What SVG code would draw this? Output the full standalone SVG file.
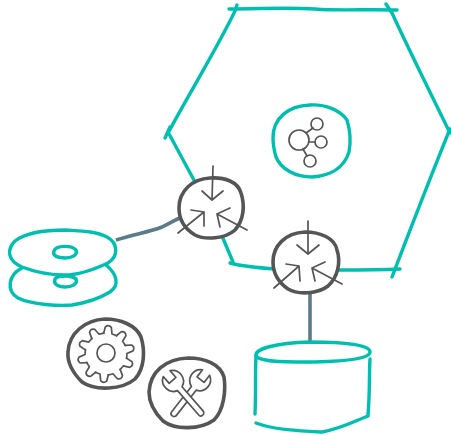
<svg xmlns="http://www.w3.org/2000/svg" width="451" height="436" viewBox="0 0 451 436">
<style>
.t{fill:none;stroke:#00bfb0;stroke-width:3.4;stroke-linecap:round;stroke-linejoin:round}
.d{fill:#fff;stroke:#555;stroke-width:3.6;stroke-linejoin:round}
.i{fill:none;stroke:#555;stroke-width:1.7;stroke-linecap:round;stroke-linejoin:round}
.w{fill:#fff;stroke:#555;stroke-width:1.7;stroke-linejoin:round}
.c{fill:none;stroke:#5b7b8c;stroke-width:3.6;stroke-linejoin:round}
</style>
<defs>
<path id="tooth" d="M-4.2 -20.5 L-3 -27 Q0 -30 3 -27 L4.2 -20.5 Q6.5 -20 9 -19"/>
<path id="wrench" d="M-3 -11 L-3 21 A3 3 0 0 0 3 21 L3 -11 A11 11 0 0 0 4.5 -31 L4.5 -22 L-4.5 -22 L-4.5 -31 A11 11 0 0 0 -3 -11Z"/>
</defs>
<g id="hexagon">
<path class="t" d="M229 9 C260 9 285 7 315 9 C340 11 365 9 397 10"/>
<path class="t" d="M237 5 L235 11 C215 52 190 92 168 133"/>
<path class="t" d="M165 138 L170 127"/>
<path class="t" d="M168 132 L195 182"/>
<path class="t" d="M386 4 L392 13 C410 52 430 92 450 133"/>
<path class="t" d="M450 129 C430 178 412 225 392 277"/>
<path class="t" d="M222 236 L233 262"/>
<path class="t" d="M230 263 C245 267 260 268 276 269"/>
<path class="t" d="M337 270 C360 270 380 270 400 269"/>
</g>
<g id="connectors">
<path class="c" d="M116 240 C130 235 150 232 162 227 C170 223 175 220 182 217"/>
<path class="c" d="M310 292 L310 344"/>
</g>
<g id="disks">
<path class="t" d="M22 268 C8 275 6 291 18 298 C32 305 60 306 72 305 C85 303 100 298 110 292 C120 285 117 274 106 265"/>
<path class="t" d="M55 279 C58 275 72 275 76 279 C78 284 72 287 65 287 C58 287 53 284 55 279Z"/>
<path class="t" style="fill:#fff" d="M66 230 C45 230 25 233 15 241 C6 250 8 261 22 267 C35 272 50 275 65 275 C80 275 95 269 108 263 C119 256 118 243 107 237 C95 231 80 231 66 230Z"/>
<path class="t" d="M54 251 C56 245 72 245 76 250 C78 255 72 258 65 258 C58 258 52 256 54 251Z"/>
</g>
<g id="node-hub">
<path class="t" d="M273 138 C273 118 288 106 310 105 C325 104 340 110 347 120 C350 130 351 142 349 152 C344 168 330 176 312 177 C295 177 281 169 276 157 C274 150 273 145 273 138Z"/>
<circle class="i" cx="299" cy="140" r="10"/>
<circle class="i" cx="317" cy="124" r="6"/>
<circle class="i" cx="321" cy="142" r="6"/>
<circle class="i" cx="310" cy="161" r="6"/>
<path class="i" d="M306 133 L313 128 M309 142 L315 142 M303 149 L307 156"/>
</g>
<g id="node-merge1">
<path class="d" d="M179 208 C179 191 192 179 210 178 C225 177 238 182 241 193 C245 205 244 220 235 230 C225 239 205 240 195 235 C185 229 179 220 179 208Z"/>
<path class="i" d="M213 166 L212 200 M202 191 L212 200 L223 191"/>
<path class="i" d="M178 233 L204 212 M191 210 L204 212 L204 226"/>
<path class="i" d="M247 230 L217 214 M230 208 L217 214 L220 227"/>
</g>
<g id="node-merge2">
<path class="d" d="M273 262 C273 246 285 233 305 232 C320 232 335 238 337 250 C341 262 338 277 328 286 C318 294 298 295 288 289 C278 282 273 272 273 262Z"/>
<path class="i" d="M308 221 L308 254 M297 245 L308 254 L319 245"/>
<path class="i" d="M274 288 L299 266 M286 264 L299 266 L300 281"/>
<path class="i" d="M342 284 L312 268 M325 262 L312 268 L315 281"/>
</g>
<g id="database">
<path class="t" d="M256 356 C254 349 275 343 310 342 C345 342 370 345 370 352 C370 358 350 361 315 362 C285 362 260 362 256 356"/>
<path class="t" d="M256 356 C255 375 256 392 255 414"/>
<path class="t" d="M370 359 C369 375 370 392 368 415"/>
<path class="t" d="M256 423 C275 430 300 431 322 432 C340 429 355 421 368 416"/>
</g>
<g id="node-gear">
<path class="d" d="M68 352 C69 333 85 320 105 319 C120 319 136 325 141 337 C145 350 145 368 135 379 C122 390 95 391 82 382 C73 373 67 364 68 352Z"/>
<circle class="i" cx="106" cy="353" r="9"/>
<g transform="translate(106 354)">
<use href="#tooth" class="i" transform="rotate(5)"/>
<use href="#tooth" class="i" transform="rotate(41)"/>
<use href="#tooth" class="i" transform="rotate(77)"/>
<use href="#tooth" class="i" transform="rotate(113)"/>
<use href="#tooth" class="i" transform="rotate(149)"/>
<use href="#tooth" class="i" transform="rotate(185)"/>
<use href="#tooth" class="i" transform="rotate(221)"/>
<use href="#tooth" class="i" transform="rotate(257)"/>
<use href="#tooth" class="i" transform="rotate(293)"/>
<use href="#tooth" class="i" transform="rotate(329)"/>
</g>
</g>
<g id="node-tools">
<path class="d" d="M149 392 C150 372 165 359 188 358 C205 358 220 364 224 377 C226 390 224 410 214 420 C200 430 175 430 163 421 C154 412 149 403 149 392Z"/>
<use href="#wrench" class="w" transform="translate(187 397) rotate(38)"/>
<use href="#wrench" class="w" transform="translate(187 397) rotate(-41)"/>
</g>
</svg>
